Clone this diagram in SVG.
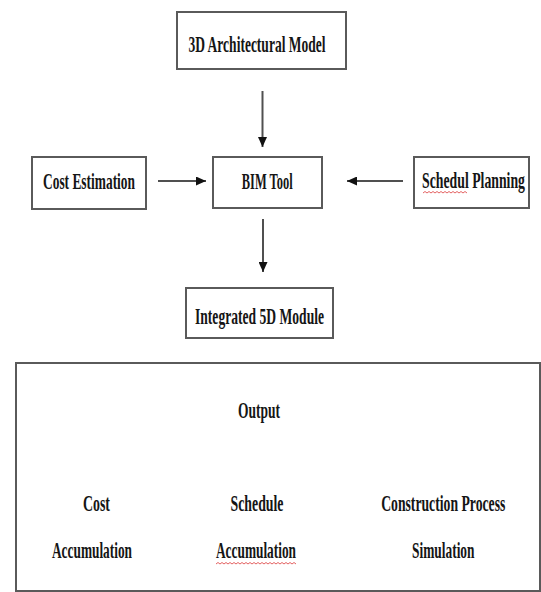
<svg xmlns="http://www.w3.org/2000/svg" width="541" height="592" viewBox="0 0 541 592">
<style>
.box{fill:#fff;stroke:#5a5a5a;stroke-width:2}
.t{font-family:"Liberation Serif","Times New Roman",serif;font-weight:bold;font-size:24px;fill:#151515;text-anchor:middle}
.c{fill:none;stroke:#505050;stroke-width:2}
.sq{fill:none;stroke:#e05050;stroke-width:0.9}
</style>
<defs>
<marker id="ah" markerUnits="userSpaceOnUse" markerWidth="11" markerHeight="9" refX="10" refY="4.5" orient="auto">
<path d="M0,0 L10,4.5 L0,9 z" fill="#111"/>
</marker>
</defs>
<rect width="541" height="592" fill="#fff"/>
<g id="connectors">
<line class="c" x1="262.5" y1="91" x2="262.5" y2="147" marker-end="url(#ah)"/>
<line class="c" x1="158" y1="181" x2="206" y2="181" marker-end="url(#ah)"/>
<line class="c" x1="403" y1="181" x2="347" y2="181" marker-end="url(#ah)"/>
<line class="c" x1="263" y1="219" x2="263" y2="272" marker-end="url(#ah)"/>
</g>
<g id="model3d">
<rect class="box" x="177" y="12" width="169" height="57"/>
<text class="t" transform="translate(257,52) scale(0.563,1)">3D Architectural Model</text>
</g>
<g id="cost">
<rect class="box" x="32" y="157" width="114" height="52"/>
<text class="t" transform="translate(89,189) scale(0.559,1)">Cost Estimation</text>
</g>
<g id="bim">
<rect class="box" x="213" y="157" width="109" height="51"/>
<text class="t" transform="translate(267.25,189) scale(0.52,1)">BIM Tool</text>
</g>
<g id="schedule">
<rect class="box" x="414" y="157" width="115" height="51"/>
<text class="t" transform="translate(473.5,188) scale(0.574,1)">Schedul Planning</text>
<path class="sq" d="M423,193 l2,-1.5 l2,1.5 l2,-1.5 l2,1.5 l2,-1.5 l2,1.5 l2,-1.5 l2,1.5 l2,-1.5 l2,1.5 l2,-1.5 l2,1.5 l2,-1.5 l2,1.5 l2,-1.5 l2,1.5 l2,-1.5 l2,1.5 l2,-1.5 l2,1.5 l2,-1.5 l2,1.5"/>
</g>
<g id="integrated">
<rect class="box" x="186" y="288" width="147" height="50"/>
<text class="t" transform="translate(259.5,324) scale(0.566,1)">Integrated 5D Module</text>
</g>
<g id="output">
<rect class="box" x="16" y="363" width="524" height="228"/>
<text class="t" transform="translate(259,418) scale(0.562,1)">Output</text>
<text class="t" transform="translate(96.5,511) scale(0.578,1)">Cost</text>
<text class="t" transform="translate(92,558) scale(0.556,1)">Accumulation</text>
<text class="t" transform="translate(257,511) scale(0.576,1)">Schedule</text>
<text class="t" transform="translate(256,558) scale(0.556,1)">Accumulation</text>
<path class="sq" d="M216,564 l2,-1.5 l2,1.5 l2,-1.5 l2,1.5 l2,-1.5 l2,1.5 l2,-1.5 l2,1.5 l2,-1.5 l2,1.5 l2,-1.5 l2,1.5 l2,-1.5 l2,1.5 l2,-1.5 l2,1.5 l2,-1.5 l2,1.5 l2,-1.5 l2,1.5 l2,-1.5 l2,1.5 l2,-1.5 l2,1.5 l2,-1.5 l2,1.5 l2,-1.5 l2,1.5 l2,-1.5 l2,1.5 l2,-1.5 l2,1.5 l2,-1.5 l2,1.5 l2,-1.5 l2,1.5 l2,-1.5 l2,1.5 l2,-1.5 l2,1.5"/>
<text class="t" transform="translate(443.25,511) scale(0.571,1)">Construction Process</text>
<text class="t" transform="translate(443.25,558) scale(0.558,1)">Simulation</text>
</g>
</svg>
